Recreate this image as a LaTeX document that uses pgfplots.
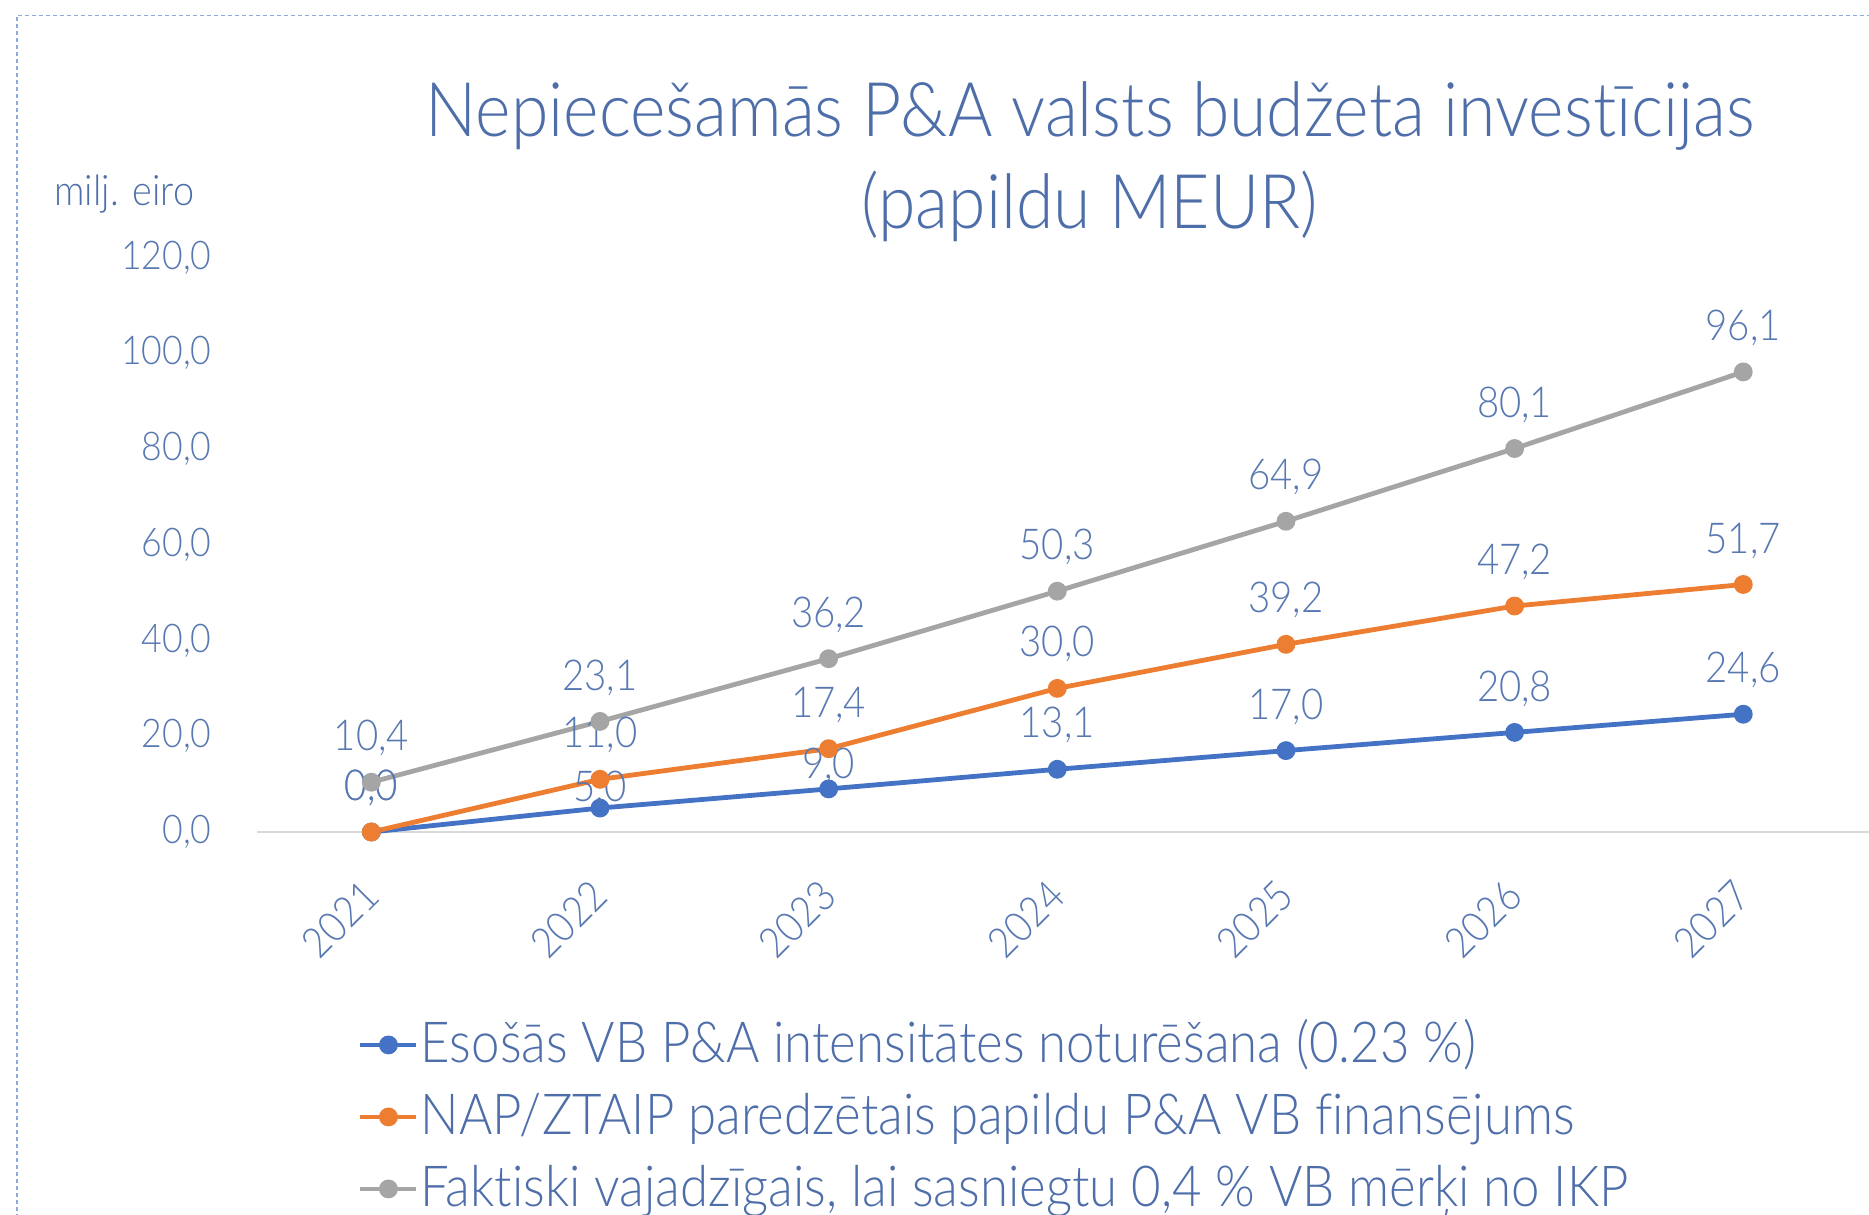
\documentclass[border=0pt]{standalone}
\usepackage{fontspec}
\IfFontExistsTF{Lato Light}{\setmainfont{Lato Light}[FakeStretch=0.9, Ligatures=NoCommon]}{\setmainfont{Open Sans}[FakeStretch=0.85]}
\usepackage{pgfplots}
\pgfplotsset{compat=1.18}
\usepackage{pgfplotstable}
\definecolor{txt}{RGB}{78,110,170}
\definecolor{lbl}{RGB}{88,120,178}
\definecolor{sblue}{RGB}{68,114,196}
\definecolor{sorange}{RGB}{237,125,49}
\definecolor{sgray}{RGB}{165,165,165}
\definecolor{framec}{RGB}{142,170,219}
\definecolor{axisgray}{RGB}{217,217,217}

\pgfplotstableread{
x y yoff
0 0.0 15.7
1 5.0 3.2
2 9.0 5.0
3 13.1 15.7
4 17.0 15.7
5 20.8 15.7
6 24.6 15.7
}\blueT
\pgfplotstableread{
x y yoff
0 0.0 15.7
1 11.0 15.7
2 17.4 15.7
3 30.0 15.7
4 39.2 15.7
5 47.2 15.7
6 51.7 15.7
}\orangeT
\pgfplotstableread{
x y yoff
0 10.4 15.7
1 23.1 15.7
2 36.2 15.7
3 50.3 15.7
4 64.9 15.7
5 80.1 15.7
6 96.1 15.7
}\grayT

\begin{document}
\begin{tikzpicture}
\draw[framec, line width=0.7bp, dash pattern=on 2bp off 1.5bp] (8.5bp,-5bp) -- (8.5bp,599.75bp) -- (940bp,599.75bp);
\node[anchor=base, font=\fontsize{37.7bp}{44bp}\selectfont, text=txt, inner sep=0pt] at (545bp,539bp) {Nepiecešamās P\&A valsts budžeta investīcijas};
\node[anchor=base, font=\fontsize{37.7bp}{44bp}\selectfont, text=txt, inner sep=0pt] at (545bp,493bp) {(papildu MEUR)};
\node[anchor=base west, font=\fontsize{21bp}{25bp}\selectfont, text=txt, inner sep=0pt] at (27bp,504.5bp) {milj. eiro};
\begin{axis}[
  at={(128.5bp,191.5bp)}, anchor=south west,
  scale only axis, width=806bp, height=287.25bp,
  xmin=-0.5, xmax=6.55, ymin=0, ymax=120,
  clip=false,
  axis lines*=left,
  x axis line style={draw=axisgray, line width=0.75bp},
  y axis line style={draw=none},
  tick style={draw=none}, major tick length=0pt,
  xtick={0,1,2,3,4,5,6},
  xticklabels={2021,2022,2023,2024,2025,2026,2027},
  ytick={0,20,40,60,80,100,120},
  /pgf/number format/use comma,
  /pgf/number format/fixed,
  /pgf/number format/fixed zerofill,
  /pgf/number format/precision=1,
  /pgf/number format/assume math mode=true,
  yticklabel style={anchor=east, inner sep=0pt, xshift=-22.5bp, font=\fontsize{19.8bp}{24bp}\selectfont, text=lbl},
  xticklabel style={yshift=-28bp, rotate=45, anchor=east, inner sep=0pt, font=\fontsize{21bp}{25bp}\selectfont, text=lbl},
  every axis plot/.append style={line width=2.4bp, mark=*, mark size=3.5bp},
  legend style={at={(axis description cs:0.0627,-0.308)}, anchor=north west, draw=none, fill=none, inner sep=0pt, outer sep=0pt, row sep=0pt, column sep=1bp, font=\fontsize{28.3bp}{34bp}\selectfont, text=txt, nodes={inner sep=0pt, text height=27bp, text depth=9bp}},
  legend cell align=left,
  legend image code/.code={\draw[#1, mark repeat=2, mark phase=2] plot coordinates {(0bp,0bp) (14bp,0bp) (28bp,0bp)};},
]
\pgfplotsset{lbls/.style={nodes near coords,
  visualization depends on={\thisrow{yoff}\as\yoff},
  every node near coord/.append style={anchor=base, inner sep=0pt, font=\fontsize{21.3bp}{25bp}\selectfont, text=lbl, yshift=\yoff bp}}}
\addplot[color=sblue, mark options={fill=sblue, draw=sblue}, lbls] table[x=x,y=y] {\blueT};
\addlegendentry{Esošās VB P\&A intensitātes noturēšana (0.23 \%)}
\addplot[color=sorange, mark options={fill=sorange, draw=sorange}, lbls] table[x=x,y=y] {\orangeT};
\addlegendentry{NAP/ZTAIP paredzētais papildu P\&A VB finansējums}
\addplot[color=sgray, mark options={fill=sgray, draw=sgray}, lbls] table[x=x,y=y] {\grayT};
\addlegendentry{Faktiski vajadzīgais, lai sasniegtu 0,4 \% VB mērķi no IKP}
\end{axis}
\pgfresetboundingbox
\useasboundingbox (0,0) rectangle (934.5bp,607.5bp);
\end{tikzpicture}
\end{document}
